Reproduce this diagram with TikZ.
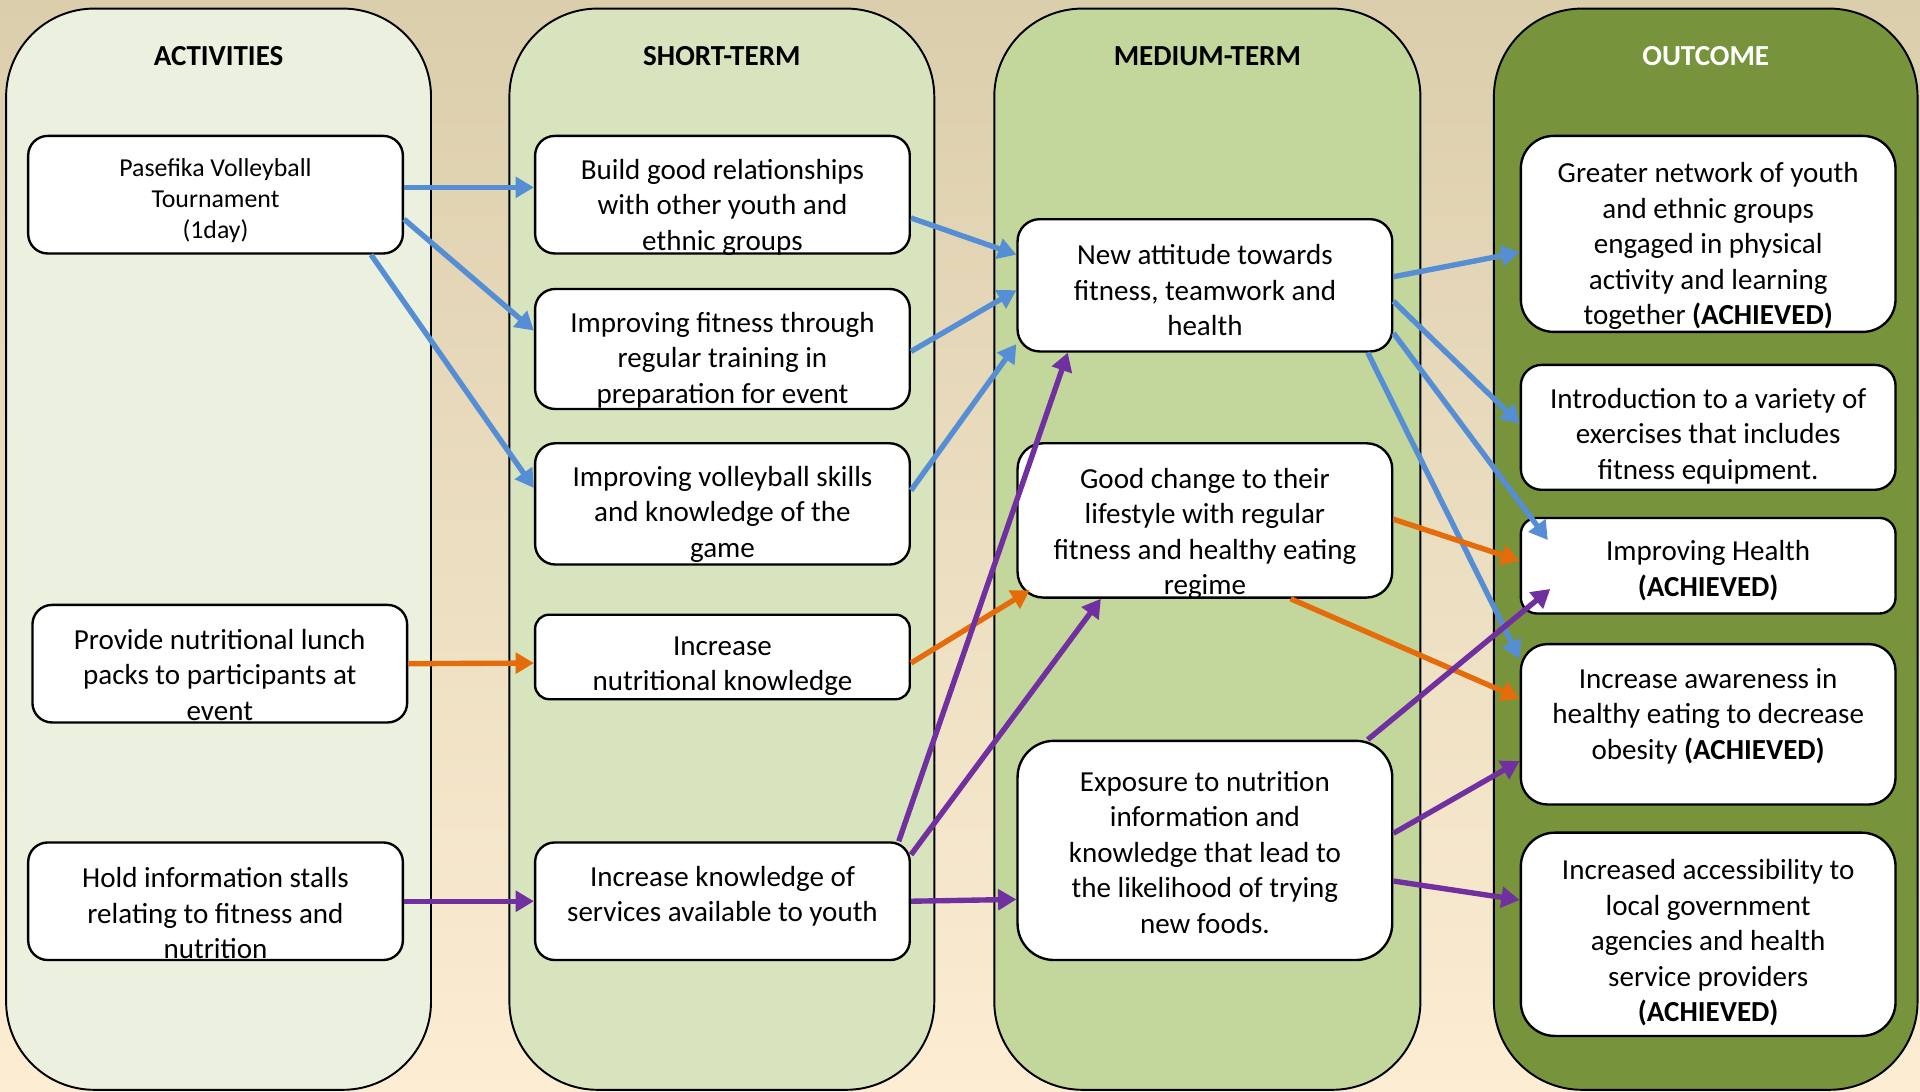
\documentclass[tikz,border=0pt]{standalone}
\usepackage{fontspec}
\setmainfont{Carlito}
\usetikzlibrary{calc,arrows.meta}

\definecolor{bgtop}{HTML}{DBCEAC}
\definecolor{bgbot}{HTML}{FCEDD3}
\definecolor{colA}{HTML}{EBF1DE}
\definecolor{colB}{HTML}{D7E4BD}
\definecolor{colC}{HTML}{C3D69B}
\definecolor{colD}{HTML}{77933C}
\definecolor{arrblue}{HTML}{558ED5}
\definecolor{arrorange}{HTML}{E46C0A}
\definecolor{arrpurple}{HTML}{7030A0}

\begin{document}
\begin{tikzpicture}[x=0.2mm, y=-0.2mm]
% Styles
\tikzset{
    column/.style={draw=black, line width=0.9pt, rounded corners=14.4mm},
    head/.style={font=\fontsize{13.5}{16.5}\selectfont\bfseries},
    box/.style={draw=black, line width=1.1pt, fill=white, inner sep=0pt,
        minimum width=61.2mm, minimum height=#1, rounded corners=#1/6},
    txt/.style={align=center, font=\fontsize{13.5}{16.5}\selectfont},
    link/.style={line width=2.5pt, -{Triangle[length=8.5pt,width=9.5pt]}}
}
% Background
\shade[top color=bgtop, bottom color=bgbot] (0,0) rectangle (1568,891);
\useasboundingbox (0,0) rectangle (1568,891);
% Columns
\draw[column, fill=colA] (5,7) rectangle (352,890);
\draw[column, fill=colB] (416,7) rectangle (763,890);
\draw[column, fill=colC] (812,7) rectangle (1160,890);
\draw[column, fill=colD] (1220,7) rectangle (1566,890);
\node[head] (hA) at (178.5,46) {ACTIVITIES};
\node[head] (hB) at (589.5,46) {SHORT-TERM};
\node[head] (hC) at (986,46) {MEDIUM-TERM};
\node[head, text=white] (hD) at (1393,46) {OUTCOME};
% Activities
\node[box=19.2mm] (a1) at (176,159) {};
\node[box=19.2mm] (a2) at (179.5,542) {};
\node[box=19.2mm] (a3) at (176,736) {};
\node[txt, font=\fontsize{12}{14.5}\selectfont] (a1t) at (176,164) {Pasefika Volleyball\\Tournament\\(1day)};
\node[txt] (a2t) at (179.5,551) {Provide nutritional lunch\\packs to participants at\\event};
\node[txt] (a3t) at (176,746) {Hold information stalls\\relating to fitness and\\nutrition};
% Short-term
\node[box=19.2mm] (s1) at (590,159) {};
\node[box=19.6mm] (s2) at (590,285) {};
\node[box=19.8mm] (s3) at (590,411.5) {};
\node[box=13.8mm] (s4) at (590,536.5) {};
\node[box=19.2mm] (s5) at (590,736) {};
\node[txt] (s1t) at (590,169) {Build good relationships\\with other youth and\\ethnic groups};
\node[txt] (s2t) at (590,294) {Improving fitness through\\regular training in\\preparation for event};
\node[txt] (s3t) at (590,420) {Improving volleyball skills\\and knowledge of the\\game};
\node[txt] (s4t) at (590,544) {Increase\\nutritional knowledge};
\node[txt] (s5t) at (590,732) {Increase knowledge of\\services available to youth};
% Medium-term
\node[box=21.6mm] (m1) at (984,233) {};
\node[box=25.2mm] (m2) at (984,425) {};
\node[box=35.8mm] (m3) at (984,694.5) {};
\node[txt] (m1t) at (984,237) {New attitude towards\\fitness, teamwork and\\health};
\node[txt] (m2t) at (984,436) {Good change to their\\lifestyle with regular\\fitness and healthy eating\\regime};
\node[txt] (m3t) at (984,696) {Exposure to nutrition\\information and\\knowledge that lead to\\the likelihood of trying\\new foods.};
% Outcome
\node[box=32mm] (o1) at (1395,191) {};
\node[box=20.4mm] (o2) at (1395,349) {};
\node[box=15.6mm] (o3) at (1395,462) {};
\node[box=26.2mm] (o4) at (1395,591.5) {};
\node[box=33.2mm] (o5) at (1395,763) {};
\node[txt] (o1t) at (1395,201) {Greater network of youth\\and ethnic groups\\engaged in physical\\activity and learning\\together \textbf{(ACHIEVED)}};
\node[txt] (o2t) at (1395,356) {Introduction to a variety of\\exercises that includes\\fitness equipment.};
\node[txt] (o3t) at (1395,466) {Improving Health\\\textbf{(ACHIEVED)}};
\node[txt] (o4t) at (1395,585) {Increase awareness in\\healthy eating to decrease\\obesity \textbf{(ACHIEVED)}};
\node[txt] (o5t) at (1395,770) {Increased accessibility to\\local government\\agencies and health\\service providers\\\textbf{(ACHIEVED)}};
% Sport links
\draw[link, arrblue] ($(a1.east)+(0,-6)$) -- ($(s1.west)+(0,-6)$);
\draw[link, arrblue] ($(a1.east)+(0,20)$) -- ($(s2.west)+(0,-15)$);
\draw[link, arrblue] ($(a1.south east)+(-27,0)$) -- ($(s3.west)+(0,-13)$);
\draw[link, arrblue] ($(s1.east)+(0,19)$) -- ($(m1.west)+(0,-25)$);
\draw[link, arrblue] ($(s2.east)+(0,2)$) -- ($(m1.west)+(0,4)$);
\draw[link, arrblue] ($(s3.east)+(0,-11)$) -- ($(m1.west)+(0,48)$);
\draw[link, arrblue] ($(m1.east)+(0,-7)$) -- ($(o1.west)+(0,15)$);
\draw[link, arrblue] ($(m1.east)+(0,13)$) -- ($(o2.west)+(0,-3)$);
\draw[link, arrblue] ($(m1.east)+(0,39)$) -- ($(o3.north west)+(23,19)$);
\draw[link, arrblue] ($(m1.south east)+(-21,0)$) -- ($(o4.north west)+(0,13)$);
% Food links
\draw[link, arrorange] (a2.east) -- ($(s4.west)+(0,5)$);
\draw[link, arrorange] ($(s4.east)+(0,5)$) -- ($(m2.south west)+(11,-7)$);
\draw[link, arrorange] ($(m2.east)+(0,-1)$) -- ($(o3.west)+(0,-4)$);
\draw[link, arrorange] ($(m2.south)+(70,0)$) -- ($(o4.west)+(0,-21)$);
% Information links
\draw[link, arrpurple] (a3.east) -- (s5.west);
\draw[link, arrpurple] (s5.east) -- ($(m3.west)+(0,40)$);
\draw[link, arrpurple] ($(s5.north east)+(-10,0)$) -- ($(m1.south west)+(42,0)$);
\draw[link, arrpurple] ($(s5.north east)+(0,11)$) -- ($(m2.south west)+(69,0)$);
\draw[link, arrpurple] ($(m3.north east)+(-21,0)$) -- ($(o3.south west)+(25,-21)$);
\draw[link, arrpurple] ($(m3.east)+(0,-14)$) -- ($(o4.west)+(0,30)$);
\draw[link, arrpurple] ($(m3.east)+(0,25)$) -- ($(o5.west)+(0,-28)$);
\end{tikzpicture}
\end{document}
